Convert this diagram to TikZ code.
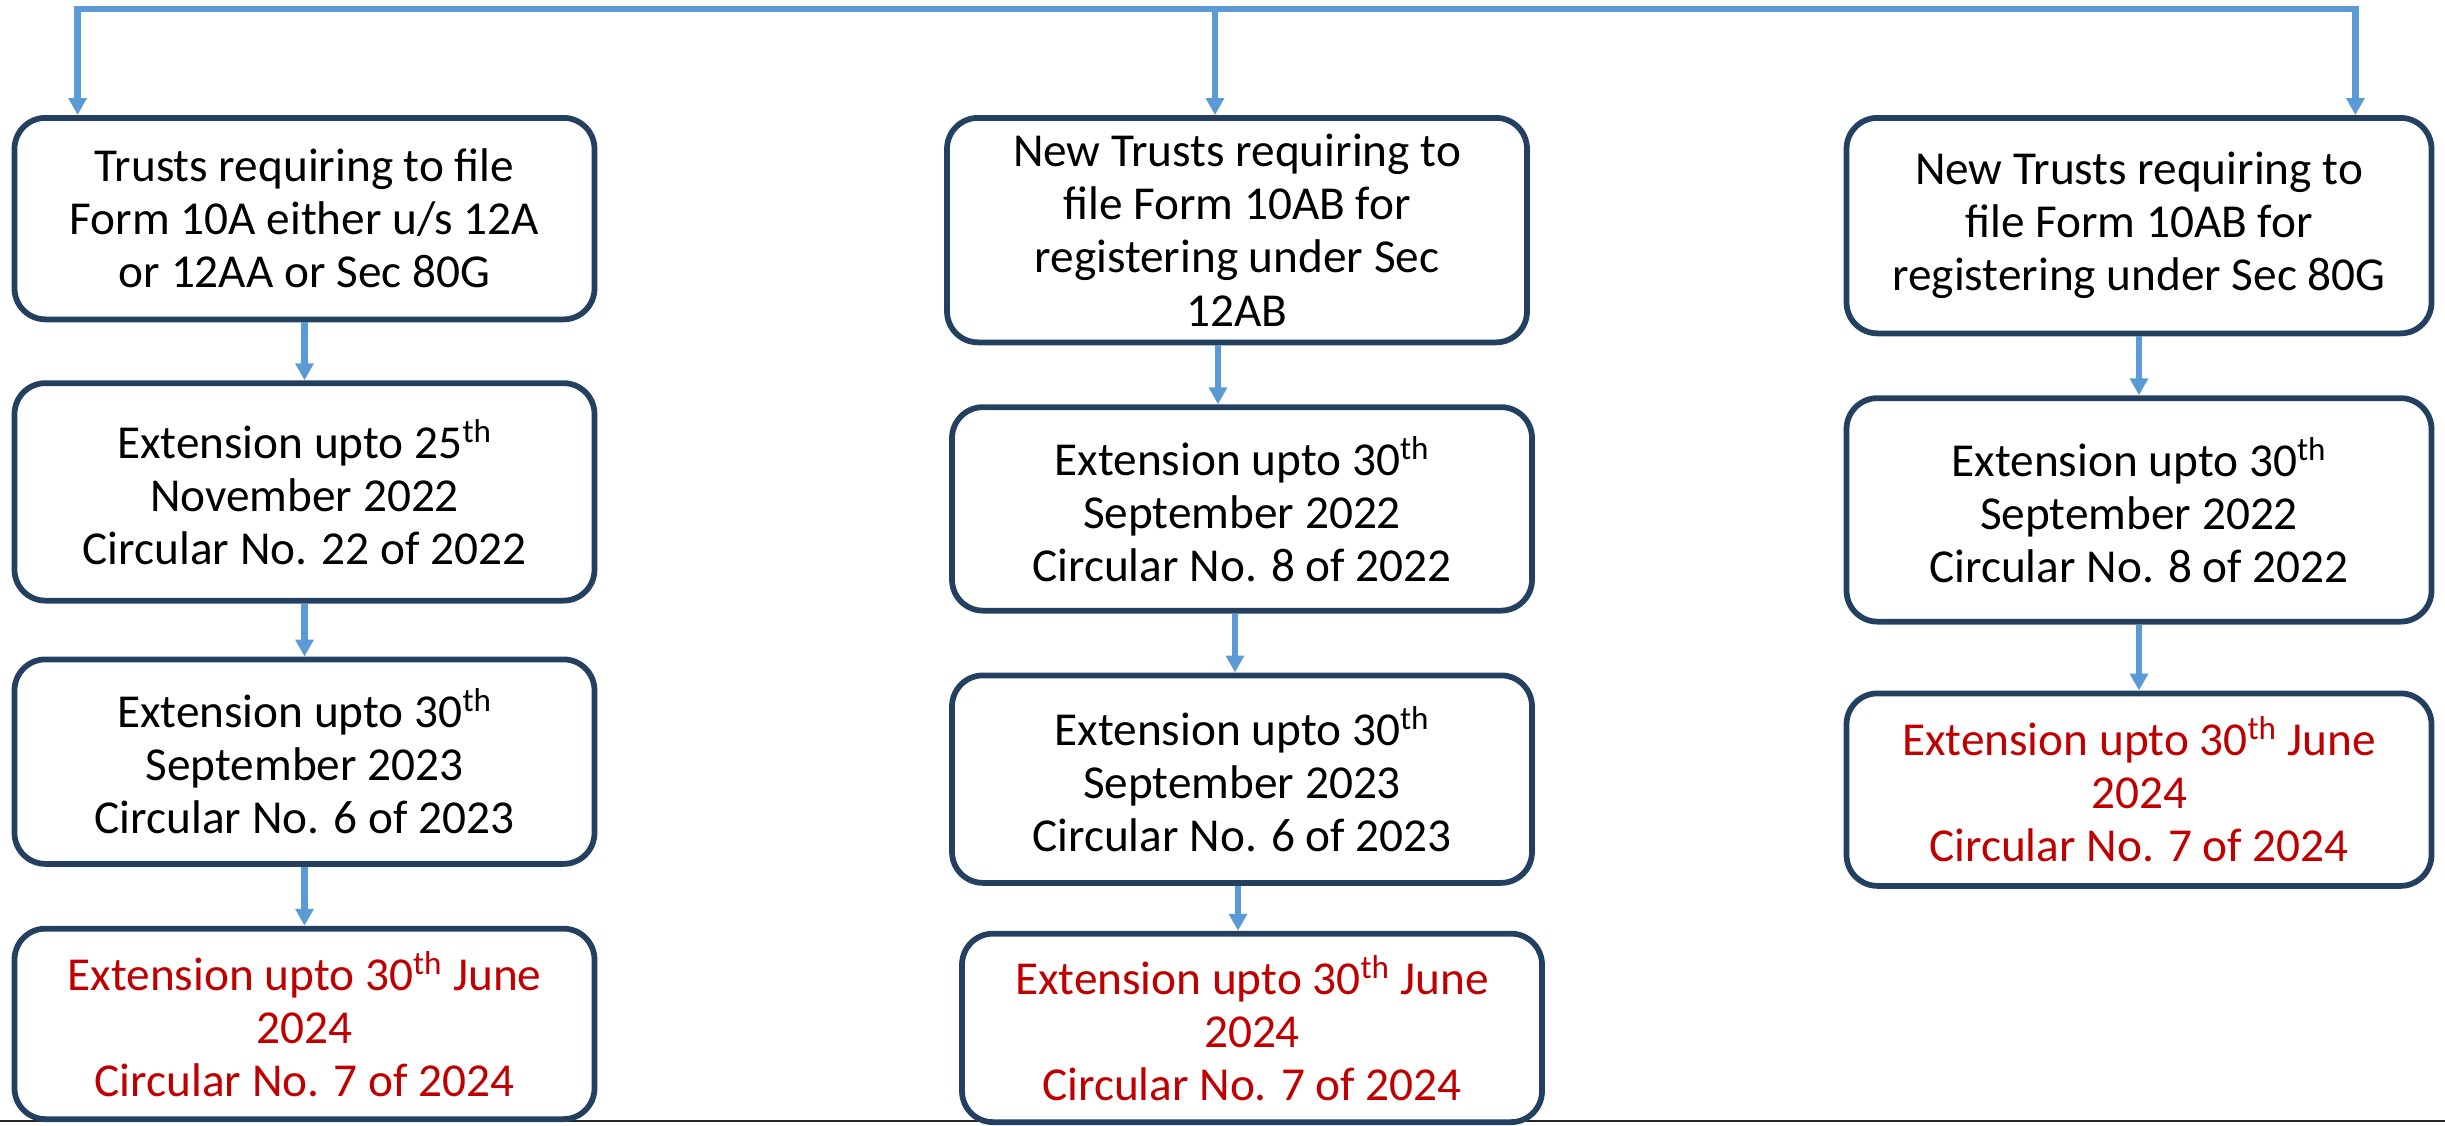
\documentclass[tikz,border=0pt]{standalone}
\usepackage{fontspec}
\setmainfont{Carlito}
\usetikzlibrary{positioning,arrows.meta}

\definecolor{boxline}{RGB}{36,64,97}
\definecolor{flowblue}{RGB}{91,155,213}
\definecolor{deadline}{RGB}{192,0,0}

\tikzstyle{stage} = [rectangle, rounded corners = 0.62cm, minimum width = 11.6cm,
	minimum height = 3.9cm, align = center, line width = 0.115cm,
	draw = boxline, fill = white,
	font = \fontsize{26.9pt}{30.2pt}\selectfont]
\tikzstyle{latest} = [stage, text = deadline]
\tikzstyle{flow} = [draw = flowblue, line width = 3.6pt,
	-{Triangle[width = 10pt, length = 9.6pt]}]

\begin{document}
\begin{tikzpicture}[node distance = 1.18cm]

\useasboundingbox (0,0) rectangle (48.9cm,-22.5cm);
\draw [line width = 1.1pt, black!85] (0,-22.42cm) -- (48.9cm,-22.42cm);

\node (A1) [stage, anchor = north, minimum height = 4.03cm] at (6.09cm,-2.3cm)
	{Trusts requiring to file\\Form 10A either u/s 12A\\or 12AA or Sec 80G};
\node (A2) [stage, below = 1.16cm of A1, minimum height = 4.35cm]
	{Extension upto 25\textsuperscript{th}\\November 2022\\Circular No. 22 of 2022};
\node (A3) [stage, below = 1.06cm of A2, minimum height = 4.09cm]
	{Extension upto 30\textsuperscript{th}\\September 2023\\Circular No. 6 of 2023};
\node (A4) [latest, below = 1.18cm of A3, minimum height = 3.81cm]
	{Extension upto 30\textsuperscript{th} June\\2024\\Circular No. 7 of 2024};

\node (B1) [stage, anchor = north, minimum height = 4.49cm] at (24.74cm,-2.3cm)
	{New Trusts requiring to\\file Form 10AB for\\registering under Sec\\12AB};
\node (B2) [stage, below = of B1, xshift = 0.1cm, minimum height = 4.07cm]
	{Extension upto 30\textsuperscript{th}\\September 2022\\Circular No. 8 of 2022};
\node (B3) [stage, below = of B2, minimum height = 4.15cm]
	{Extension upto 30\textsuperscript{th}\\September 2023\\Circular No. 6 of 2023};
\node (B4) [latest, below = 0.9cm of B3, xshift = 0.2cm, minimum height = 3.77cm]
	{Extension upto 30\textsuperscript{th} June\\2024\\Circular No. 7 of 2024};

\node (C1) [stage, anchor = north, minimum height = 4.31cm, minimum width = 11.7cm]
	at (42.78cm,-2.3cm)
	{New Trusts requiring to\\file Form 10AB for\\registering under Sec 80G};
\node (C2) [stage, below = of C1, minimum height = 4.47cm, minimum width = 11.7cm]
	{Extension upto 30\textsuperscript{th}\\September 2022\\Circular No. 8 of 2022};
\node (C3) [latest, below = 1.32cm of C2, minimum height = 3.85cm, minimum width = 11.7cm]
	{Extension upto 30\textsuperscript{th} June\\2024\\Circular No. 7 of 2024};

\coordinate (bus) at (24.3cm,-0.18cm);
\coordinate (inA) at ([xshift = 1.32cm]A1.north west);
\coordinate (inC) at ([xshift = -1.58cm]C1.north east);

\draw [flow] (bus) -| (inA);
\draw [flow] (bus) -| (inC);
\draw [flow] (bus) -- (bus |- B1.north);

\foreach \from/\to/\dx in {A1/A2/0, A2/A3/0, A3/A4/0, B1/B2/-0.38, B2/B3/-0.14,
	B3/B4/-0.08, C1/C2/0, C2/C3/0}
	\draw [flow] ([xshift = \dx cm]\from.south) -- ([xshift = \dx cm]\from.south |- \to.north);

\end{tikzpicture}
\end{document}
